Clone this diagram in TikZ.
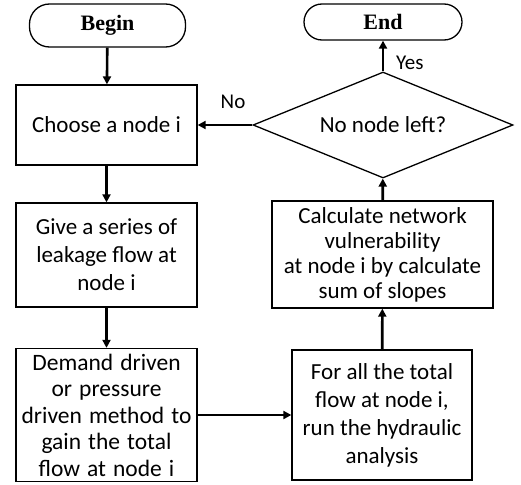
\documentclass[tikz,border=0pt]{standalone}
\usepackage{fontspec}
\setmainfont{Carlito}
\newfontfamily\titlefont{Liberation Serif}
\usetikzlibrary{shapes.geometric,arrows.meta}
\newcommand{\widespace}{\spaceskip=0.3em\relax}
\tikzset{
  box/.style={draw, line width=1.3pt, align=center, inner sep=1pt, font=\fontsize{23}{27}\selectfont},
  term/.style={draw, line width=1.3pt, rounded corners=20pt, font=\titlefont\bfseries\fontsize{22}{24}\selectfont},
  dec/.style={draw, line width=1.3pt, diamond, aspect=2.45, inner sep=0pt, minimum width=260pt, minimum height=106pt, font=\fontsize{23}{26}\selectfont},
  flow/.style={line width=2.6pt, -{Triangle[length=8pt,width=8pt]}},
  lbl/.style={font=\fontsize{21}{24}\selectfont, inner sep=0pt}
}
\begin{document}
\begin{tikzpicture}[x=1pt,y=-1pt]
\useasboundingbox (0,0) rectangle (521,484);
\node[term, minimum width=156pt, minimum height=43pt] (begin) at (107.5,25.5) {Begin};
\node[box, minimum width=181pt, minimum height=80pt] (choose) at (106.5,125) {Choose a node i};
\node[box, minimum width=181pt, minimum height=104pt, font=\fontsize{23}{28}\selectfont] (give) at (106.5,255) {Give a series of\\leakage flow at\\node i};
\node[box, minimum width=181pt, minimum height=133pt, font=\fontsize{23.5}{26.5}\selectfont\widespace] (demand) at (106.5,415) {Demand driven\\or pressure\\driven method to\\gain the total\\flow at node i};
\node[box, minimum width=180pt, minimum height=130pt, font=\fontsize{23}{28}\selectfont] (forall) at (382,415) {For all the total\\flow at node i,\\run the hydraulic\\analysis};
\node[box, minimum width=221pt, minimum height=107pt, font=\fontsize{23}{25}\selectfont] (calc) at (382.5,254.5) {Calculate network\\vulnerability\\at node i by calculate\\sum of slopes};
\node[dec] (dec) at (383,125) {No node left?};
\node[term, minimum width=158pt, minimum height=36pt, rounded corners=18pt] (end) at (383,22) {End};
\draw[flow] (begin) -- (choose);
\draw[flow] (choose) -- (give);
\draw[flow] (give) -- (demand);
\draw[flow] (demand) -- (forall);
\draw[flow] (forall) -- (calc);
\draw[flow] (calc) -- (dec);
\draw[flow] (dec) -- (end);
\draw[flow] (dec.west) -- (choose.east);
\node[lbl, anchor=west] (yes) at (396,63) {Yes};
\node[lbl] (no) at (233,102) {No};
\end{tikzpicture}
\end{document}
